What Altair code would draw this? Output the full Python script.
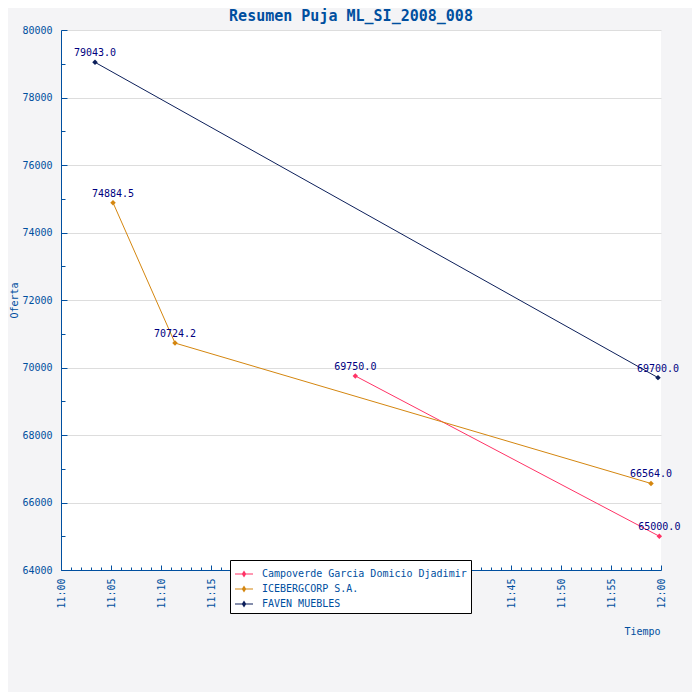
import altair as alt
import pandas as pd

series = ["Campoverde Garcia Domicio Djadimir", "ICEBERGCORP S.A.", "FAVEN MUEBLES"]
colors = ["#ff3366", "#d4860f", "#0c1f5a"]

camp_times = ["11:29:26", "11:59:50"]
camp_vals = [69750.0, 65000.0]
ice_times = ["11:05:12", "11:11:24", "11:59:00"]
ice_vals = [74884.5, 70724.2, 66564.0]
fav_times = ["11:03:24", "11:59:42"]
fav_vals = [79043.0, 69700.0]

y_major = list(range(64000, 80001, 2000))
y_minor = list(range(64000, 80001, 1000))
x_minutes = list(range(0, 61))
day = "2008-06-01T"

rows = []
for name, ts, vs in zip(series, [camp_times, ice_times, fav_times], [camp_vals, ice_vals, fav_vals]):
    for t, v in zip(ts, vs):
        rows.append({"Postor": name, "Tiempo": day + t, "Oferta": v})
df = pd.DataFrame(rows)


def dt(m):
    return alt.DateTime(year=2008, month=6, date=1, hours=11 + m // 60, minutes=m % 60)


x_major = [dt(m) for m in x_minutes if m % 5 == 0]
x_all = [dt(m) for m in x_minutes]

BLUE = "#004f9f"
FONT = "DejaVu Sans Mono"

x_scale = alt.Scale(domain=[dt(0), dt(60)])
y_scale = alt.Scale(domain=[64000, 80000], nice=False, zero=False)

x_main = alt.X(
    "Tiempo:T", scale=x_scale,
    axis=alt.Axis(
        orient="bottom", title="Tiempo", format="%H:%M", values=x_major,
        labelAngle=270, labelOverlap=False, labelFlush=False,
        labelPadding=8, ticks=False, grid=False,
        domainColor=BLUE, labelColor=BLUE, labelFont=FONT, labelFontSize=10,
        titleFont=FONT, titleFontSize=10, titleFontWeight="normal", titleColor=BLUE,
        titleX=599, titleY=61, titleAlign="right", titleBaseline="middle",
    ),
)
y_main = alt.Y(
    "Oferta:Q", scale=y_scale,
    axis=alt.Axis(
        orient="left", title="Oferta", values=y_major, format="d",
        labelPadding=9, ticks=False, labelOverlap=False,
        domainColor=BLUE, labelColor=BLUE, labelFont=FONT, labelFontSize=10,
        grid=True, gridColor="#dddddd",
        titleFont=FONT, titleFontSize=10, titleFontWeight="normal", titleColor=BLUE,
        titleX=-47, titleY=270, titleAngle=270, titleAlign="center", titleBaseline="middle",
    ),
)
x_ticks = alt.X(
    "Tiempo:T", scale=x_scale,
    axis=alt.Axis(
        orient="top", offset=-540, title=None, labels=False, domain=False, grid=False,
        values=x_all, tickColor=BLUE, tickWidth=1,
        tickSize={"condition": {"test": "minutes(datum.value) % 5 === 0", "value": 5}, "value": 3},
    ),
)
y_ticks = alt.Y(
    "Oferta:Q", scale=y_scale,
    axis=alt.Axis(
        orient="right", offset=-600, title=None, labels=False, domain=False, grid=False,
        values=y_minor, tickColor=BLUE, tickWidth=1,
        tickSize={"condition": {"test": "datum.value % 2000 === 0", "value": 6}, "value": 4},
    ),
)

color_scale = alt.Scale(domain=series, range=colors)

lines = alt.Chart(df).mark_line(strokeWidth=1).encode(
    x=x_main, y=y_main,
    color=alt.Color("Postor:N", scale=color_scale, legend=None),
    order="Tiempo:T",
)

points = alt.Chart(df).mark_point(shape="diamond", filled=True, size=30, opacity=1).encode(
    x=alt.X("Tiempo:T", axis=None), y=alt.Y("Oferta:Q", axis=None),
    color=alt.Color(
        "Postor:N", scale=color_scale,
        legend=alt.Legend(
            title=None, orient="none", legendX=169, legendY=530,
            fillColor="white", strokeColor="black", padding=4, rowPadding=0,
            labelFont=FONT, labelFontSize=10, labelColor=BLUE, labelOffset=8, labelLimit=400,
            symbolType="M-1,-0.06L1,-0.06L1,0.06L-1,0.06Z M0,-0.4L0.25,0L0,0.4L-0.25,0Z",
            symbolSize=324, symbolOpacity=1,
        ),
    ),
)

labels = alt.Chart(df).mark_text(
    font=FONT, fontSize=10, color="#000080", baseline="bottom", align="center", dy=-4,
).encode(
    x=x_ticks, y=y_ticks,
    text=alt.Text("Oferta:Q", format=".1f"),
)

chart = alt.layer(lines, points, labels).resolve_legend(color="independent").properties(
    width=600, height=540,
    title=alt.TitleParams(
        "Resumen Puja ML_SI_2008_008", font=FONT, fontSize=15, fontWeight="bold",
        color=BLUE, anchor="middle", dx=-10, offset=1,
    ),
    autosize=alt.AutoSizeParams(type="none"),
    padding={"left": 53, "top": 22, "right": 31, "bottom": 122},
).configure(background="#f4f4f6").configure_view(fill="white", strokeWidth=0)

chart.save("out.html", embed_options={"renderer": "svg", "actions": False})
